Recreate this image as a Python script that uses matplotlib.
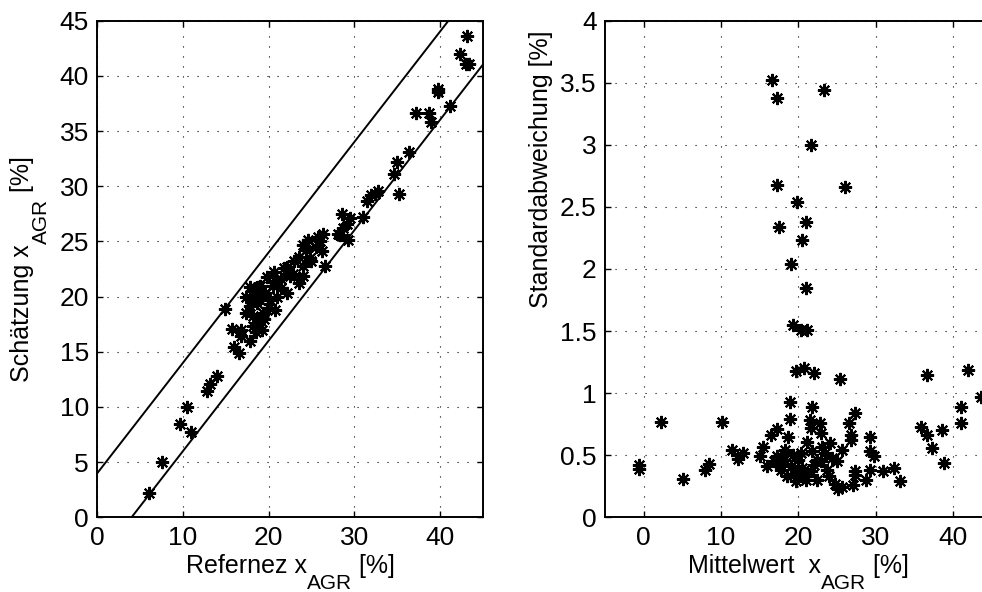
import matplotlib
matplotlib.use("Agg")
import matplotlib.pyplot as plt
from matplotlib.ticker import FuncFormatter
from matplotlib.transforms import Bbox

plt.rcParams['font.family'] = ['Liberation Sans', 'DejaVu Sans']

# left panel: reference vs. estimate
ref_x = [43.2, 42.4, 43.1, 43.4, 39.8, 39.8, 41.2, 37.2, 38.7, 39.0,
         36.4, 35.0, 34.6, 35.2, 32.8, 32.4, 32.0, 31.5, 31.0, 28.6,
         29.5, 29.1, 28.7, 28.3, 29.3, 28.1, 26.4, 26.0, 24.6, 24.0,
         24.4, 23.5, 26.2, 24.8, 26.6, 24.0, 22.2, 25.0, 22.1, 22.5,
         21.5, 20.9, 22.1, 23.5, 24.0, 17.8, 17.4, 18.8, 19.6, 20.2,
         20.7, 18.6, 17.4, 18.2, 18.6, 18.2, 19.4, 19.0, 17.8, 14.9,
         15.7, 16.8, 16.8, 17.8, 15.9, 16.6, 14.0, 13.2, 12.8, 10.5,
         9.65, 10.9, 7.5, 6.07,
         19.0, 18.3, 19.8, 20.5, 21.0, 19.5, 18.0, 20.0, 21.5, 19.2,
         18.5, 20.6, 22.8, 21.8, 23.0, 25.5, 25.8]
est_y = [43.6, 42.0, 41.1, 41.1, 38.8, 38.5, 37.3, 36.6, 36.6, 35.8,
         33.1, 32.2, 31.1, 29.3, 29.6, 29.3, 29.2, 28.7, 27.2, 27.5,
         27.1, 26.6, 26.2, 25.6, 25.1, 25.7, 25.7, 25.0, 25.1, 24.7,
         24.2, 23.6, 24.1, 23.5, 22.8, 22.8, 22.7, 23.2, 22.4, 21.9,
         21.6, 21.3, 20.3, 21.2, 21.9, 20.9, 20.0, 20.9, 20.3, 19.7,
         18.8, 19.4, 18.5, 18.2, 17.6, 17.3, 18.5, 19.7, 19.1, 18.9,
         17.1, 17.0, 16.4, 16.0, 15.4, 14.9, 12.8, 12.1, 11.4, 10.0,
         8.45, 7.75, 5.0, 2.17,
         21.0, 20.5, 21.8, 21.0, 20.0, 18.0, 19.8, 19.0, 20.8, 17.0,
         16.8, 22.2, 22.0, 22.6, 23.2, 24.5, 25.4]
band = 4
line_x = [0, 45]

# right panel: mean vs. standard deviation
mean_x = [16.6, 17.3, 23.3, 21.6, 17.2, 26.0, 19.8, 17.5, 21.0, 20.5,
          19.0, 21.0, 19.3, 20.4, 21.1, 19.7, 20.7, 22.0, 25.4, 36.7,
          42.0, 43.6, 41.1, 41.1, 35.9, 36.6, 37.3, 38.6, 38.9, -0.6,
          -0.6, 2.3, 5.1, 7.9, 8.5, 10.1, 11.4, 12.2, 12.9, 15.0,
          15.4, 15.9, 16.5, 17.2, 17.3, 17.7, 18.3, 18.7, 18.9, 18.9,
          18.6, 19.0, 19.7, 19.4, 20.0, 20.3, 20.7, 21.1, 21.6, 21.5,
          21.8, 21.6, 21.8, 22.4, 22.4, 22.8, 22.9, 23.1, 23.5, 24.1,
          23.7, 24.4, 25.0, 25.7, 24.8, 25.2, 25.7, 27.1, 26.8, 26.8,
          26.6, 27.3, 27.4, 27.4, 28.7, 29.3, 29.3, 29.3, 29.8, 31.0,
          32.4, 33.2,
          17.8, 18.2, 19.3, 20.5, 21.0, 22.0, 19.8, 16.8, 23.0, 24.0]
std_y = [3.52, 3.38, 3.44, 3.00, 2.68, 2.66, 2.54, 2.34, 2.38, 2.23,
         2.04, 1.85, 1.55, 1.51, 1.51, 1.18, 1.20, 1.16, 1.11, 1.15,
         1.19, 0.97, 0.89, 0.76, 0.73, 0.66, 0.56, 0.70, 0.44, 0.42,
         0.39, 0.77, 0.31, 0.38, 0.43, 0.77, 0.54, 0.47, 0.52, 0.49,
         0.57, 0.41, 0.66, 0.71, 0.49, 0.43, 0.54, 0.65, 0.79, 0.93,
         0.33, 0.41, 0.29, 0.35, 0.46, 0.52, 0.33, 0.61, 0.37, 0.78,
         0.89, 0.72, 0.53, 0.46, 0.30, 0.76, 0.68, 0.57, 0.52, 0.60,
         0.38, 0.48, 0.45, 0.54, 0.27, 0.23, 0.24, 0.26, 0.62, 0.66,
         0.76, 0.84, 0.37, 0.34, 0.30, 0.38, 0.65, 0.53, 0.49, 0.37,
         0.40, 0.29,
         0.38, 0.46, 0.50, 0.40, 0.30, 0.42, 0.35, 0.45, 0.45, 0.33]

FS = 19       # tick labels
LFS = 18      # axis labels
SFS = 15      # subscripts
star = (8, 2, 0)


def style_axes(ax):
    for s in ax.spines.values():
        s.set_linewidth(1.4)
    ax.tick_params(direction='in', length=4, width=1, top=True, right=True,
                   labelsize=FS, pad=6)
    ax.grid(True, color='black', linewidth=0.8, linestyle=(0, (1, 8)))
    ax.set_axisbelow(True)


def sub_label(ax, main, sub, tail, pos, vertical=False):
    # MATLAB-style label with a big, low subscript, built from three texts
    if not vertical:
        t1 = ax.text(0.5, pos, main, transform=ax.transAxes, fontsize=LFS,
                     ha='left', va='baseline')
        t2 = ax.annotate(sub, xy=(1, 0), xycoords=t1, xytext=(0, 2.5),
                         textcoords='offset points', fontsize=SFS,
                         ha='left', va='top')
        t3 = ax.annotate(tail, xy=(1, 0), xycoords=(t2, t1), fontsize=LFS,
                         ha='left', va='bottom')
    else:
        t1 = ax.text(pos, 0.5, main, transform=ax.transAxes, fontsize=LFS,
                     rotation=90, ha='left', va='bottom')
        t2 = ax.annotate(sub, xy=(1, 1), xycoords=t1, xytext=(-1.5, 0),
                         textcoords='offset points', fontsize=SFS,
                         rotation=90, ha='left', va='bottom')
        t3 = ax.annotate(tail, xy=(0, 1), xycoords=(t1, t2), fontsize=LFS,
                         rotation=90, ha='left', va='bottom')
    fig.canvas.draw()
    r = fig.canvas.get_renderer()
    span = Bbox.union([t.get_window_extent(r) for t in (t1, t2, t3)])
    axb = ax.get_window_extent(r)
    if not vertical:
        dx = ((axb.x0 + axb.x1) / 2 - (span.x0 + span.x1) / 2) / axb.width
        t1.set_x(0.5 + dx)
    else:
        dy = ((axb.y0 + axb.y1) / 2 - (span.y0 + span.y1) / 2) / axb.height
        t1.set_y(0.5 + dy)


fig = plt.figure(figsize=(9.82, 5.92), dpi=100)
ax1 = fig.add_axes([0.0991, 0.1262, 0.3925, 0.8389])
ax2 = fig.add_axes([0.6161, 0.1262, 0.3936, 0.8389])

# left
ax1.plot(line_x, [v + band for v in line_x], color='black', linewidth=1.4)
ax1.plot(line_x, [v - band for v in line_x], color='black', linewidth=1.4)
ax1.plot(ref_x, est_y, linestyle='none', marker=star, markersize=9.5,
         markeredgewidth=1.5, color='black')
ax1.set_xlim(0, 45)
ax1.set_ylim(0, 45)
ax1.set_xticks([0, 10, 20, 30, 40])
ax1.set_yticks(range(0, 46, 5))
style_axes(ax1)

# right
ax2.plot(mean_x, std_y, linestyle='none', marker=star, markersize=9.5,
         markeredgewidth=1.5, color='black')
ax2.set_xlim(-5, 45)
ax2.set_ylim(0, 4)
ax2.set_xticks([0, 10, 20, 30, 40])
ax2.set_yticks([0, 0.5, 1, 1.5, 2, 2.5, 3, 3.5, 4])
ax2.yaxis.set_major_formatter(FuncFormatter(lambda v, p: f'{v:g}'))
ax2.set_ylabel('Standardabweichung [%]', fontsize=LFS)
ax2.yaxis.set_label_coords(-0.135, 0.7)
style_axes(ax2)

sub_label(ax1, 'Refernez x', 'AGR', ' [%]', -0.112)
sub_label(ax1, 'Schätzung x', 'AGR', ' [%]', -0.2265, vertical=True)
sub_label(ax2, 'Mittelwert  x', 'AGR', ' [%]', -0.112)

fig.savefig('out.png', dpi=100)
